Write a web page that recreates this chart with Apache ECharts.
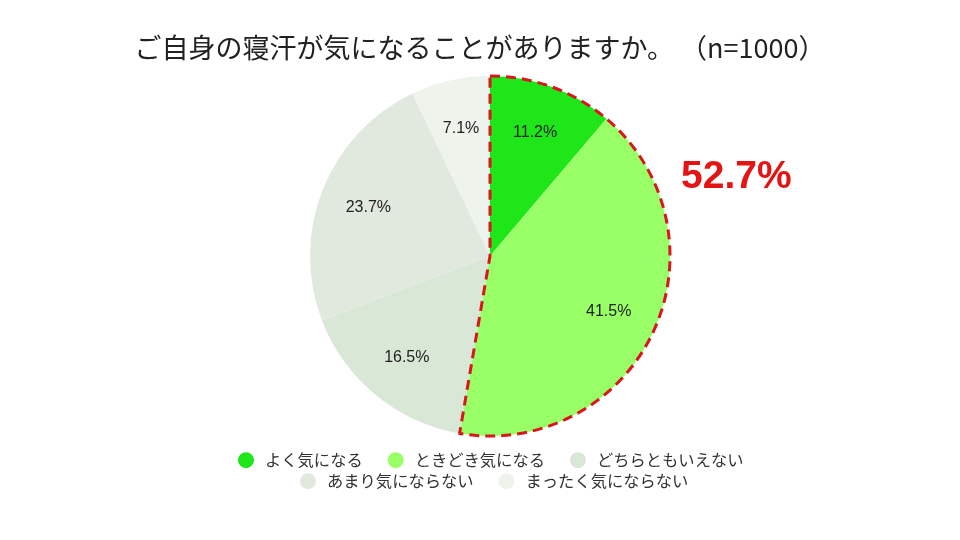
<!DOCTYPE html>
<html>
<head>
<meta charset="utf-8">
<script src="https://cdn.jsdelivr.net/npm/echarts@6/dist/echarts.min.js"></script>
<style>html,body{margin:0;padding:0;background:#fff}#c{width:960px;height:540px}</style>
</head>
<body>
<div id="c"></div>
<script>
const categories = ['よく気になる', 'ときどき気になる', 'どちらともいえない', 'あまり気にならない', 'まったく気にならない'];
const values = [11.2, 41.5, 16.5, 23.7, 7.1];
const colors = ['#1ee619', '#99ff66', '#d9e7d6', '#e1e9df', '#eef3ec'];
const highlightTotal = 52.7;
const titleText = 'ご自身の寝汗が気になることがありますか。 （n=1000）';

const jp = '"Noto Sans CJK JP", "Noto Sans", sans-serif';
const lat = '"Liberation Sans", Arial, sans-serif';
const chart = echarts.init(document.getElementById('c'), null, {renderer: 'canvas'});
const center = [490, 256];
const R = 180;

const mainData = categories.map((n, i) => ({name: n, value: values[i], itemStyle: {color: colors[i]}}));
const legendCommon = {
  orient: 'horizontal', icon: 'circle', itemWidth: 16, itemHeight: 16, itemGap: 25,
  textStyle: {fontFamily: jp, fontSize: 16.3, color: '#333', padding: [0, 0, 0, 6]},
  selectedMode: false
};
chart.setOption({
  animation: false,
  title: {text: titleText, left: 'center', top: 29, textStyle: {fontFamily: jp, fontSize: 27, fontWeight: 'normal', color: '#222'}},
  legend: [
    Object.assign({}, legendCommon, {left: 233, top: 447, data: categories.slice(0, 3)}),
    Object.assign({}, legendCommon, {left: 295, top: 468, data: categories.slice(3)})
  ],
  graphic: [{
    type: 'text', left: 681, top: 158,
    style: {text: highlightTotal + '%', font: 'bold 39px ' + lat, fill: '#e41414'}
  }],
  series: [
    {
      type: 'pie', center: center, radius: [0, R], startAngle: 90, clockwise: true,
      data: mainData, label: {show: false}, labelLine: {show: false}, silent: true
    },
    {
      type: 'pie', center: center, radius: [76, R], startAngle: 90, clockwise: true,
      data: categories.map((n, i) => ({name: n + '_l', value: values[i]})),
      itemStyle: {color: 'rgba(0,0,0,0)'}, silent: true,
      label: {show: true, position: 'inside', formatter: '{c}%', fontFamily: lat, fontSize: 16, color: '#222'},
      labelLine: {show: false}
    },
    {
      type: 'pie', center: center, radius: [0, R], startAngle: 90, clockwise: true, silent: true,
      label: {show: false}, labelLine: {show: false},
      data: [
        {name: 'hl', value: highlightTotal, itemStyle: {color: 'rgba(0,0,0,0)', borderColor: '#d9161c', borderWidth: 3, borderType: [10, 6]}},
        {name: 'rest', value: +(100 - highlightTotal).toFixed(1), itemStyle: {color: 'rgba(0,0,0,0)', borderWidth: 0}}
      ]
    }
  ]
});
</script>
</body>
</html>
